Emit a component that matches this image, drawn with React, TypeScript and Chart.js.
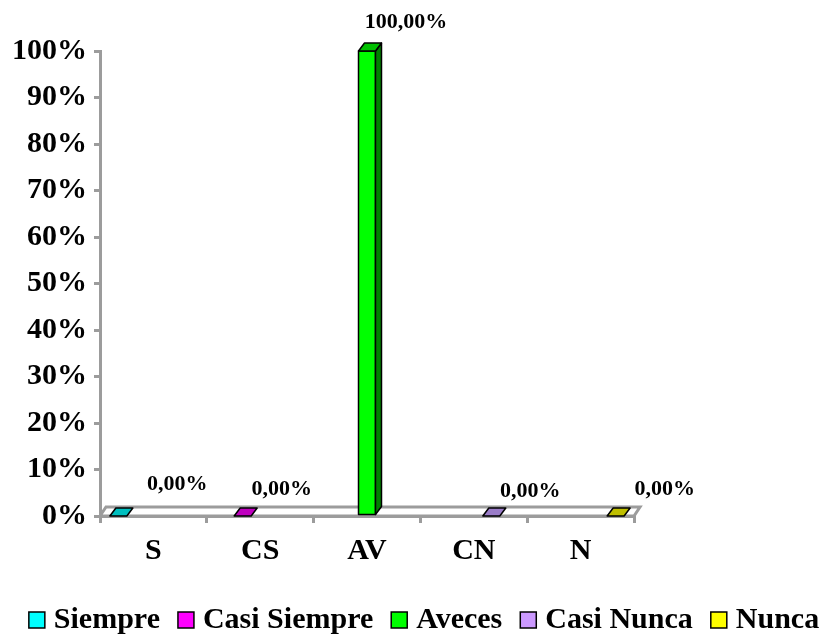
import React, { useEffect, useRef } from 'react';
import { Chart, registerables } from 'chart.js';

Chart.register(...registerables);

// ---- data ----
const categories = ['S', 'CS', 'AV', 'CN', 'N'];
const seriesNames = ['Siempre', 'Casi Siempre', 'Aveces', 'Casi Nunca', 'Nunca'];
const seriesValues = [0, 0, 100, 0, 0];
const yMin = 0;
const yMax = 100;
const yStep = 10;

// ---- styles ----
const frontColors = ['#00FFFF', '#FF00FF', '#00FF00', '#CC99FF', '#FFFF00'];
const topColors = ['#00BFBF', '#BF00BF', '#00C000', '#9A7CC8', '#BFBF00'];
const sideColors = ['#008080', '#800080', '#008000', '#6A52A0', '#808000'];
const LABEL_SHIFT_X = [20, 0, 0, 0, 10];
const LABEL_SHIFT_Y = [-5, 0, -2, 2, 0];
const GRAY = '#9c9c9c';
const FONT = '"Liberation Serif", "Times New Roman", serif';
const DX = 6;
const DY = -8;

const fmtLabel = (v: number) => v.toFixed(2).replace('.', ',') + '%';

const threeD = {
  id: 'threeD',
  beforeDatasetsDraw(chart: any) {
    const { ctx, chartArea } = chart;
    const { left, right, bottom } = chartArea;
    ctx.save();
    ctx.beginPath();
    ctx.moveTo(left, bottom);
    ctx.lineTo(right, bottom);
    ctx.lineTo(right + DX, bottom + DY - 1);
    ctx.lineTo(left + DX, bottom + DY - 1);
    ctx.closePath();
    ctx.fillStyle = '#ffffff';
    ctx.fill();
    ctx.strokeStyle = GRAY;
    ctx.lineWidth = 3;
    ctx.stroke();
    ctx.restore();
  },
  afterDatasetsDraw(chart: any) {
    const { ctx } = chart;
    ctx.save();
    chart.data.datasets.forEach((ds: any, i: number) => {
      const meta = chart.getDatasetMeta(i);
      meta.data.forEach((el: any, j: number) => {
        const v = ds.data[j];
        if (v === null || v === undefined) return;
        const p = el.getProps(['x', 'y', 'base', 'width'], true);
        const x0 = p.x - p.width / 2;
        const x1 = p.x + p.width / 2;
        const top = Math.min(p.y, p.base);
        const bot = Math.max(p.y, p.base);
        ctx.lineWidth = 1.5;
        ctx.strokeStyle = '#000';
        ctx.lineJoin = 'round';
        if (bot - top > 0.5) {
          ctx.beginPath();
          ctx.rect(x0, top, x1 - x0, bot - top);
          ctx.fillStyle = frontColors[i];
          ctx.fill();
          ctx.stroke();
          ctx.beginPath();
          ctx.moveTo(x1, top);
          ctx.lineTo(x1 + DX, top + DY);
          ctx.lineTo(x1 + DX, bot + DY);
          ctx.lineTo(x1, bot);
          ctx.closePath();
          ctx.fillStyle = sideColors[i];
          ctx.fill();
          ctx.stroke();
        }
        ctx.beginPath();
        ctx.moveTo(x0, top);
        ctx.lineTo(x1, top);
        ctx.lineTo(x1 + DX, top + DY);
        ctx.lineTo(x0 + DX, top + DY);
        ctx.closePath();
        ctx.fillStyle = topColors[i];
        ctx.fill();
        ctx.stroke();
      });
    });
    ctx.restore();
  },
  afterDraw(chart: any) {
    const { ctx } = chart;
    ctx.save();
    // data labels
    ctx.font = `bold 22px ${FONT}`;
    ctx.fillStyle = '#000';
    ctx.textAlign = 'center';
    ctx.textBaseline = 'middle';
    chart.data.datasets.forEach((ds: any, i: number) => {
      const meta = chart.getDatasetMeta(i);
      meta.data.forEach((el: any, j: number) => {
        const v = ds.data[j];
        if (v === null || v === undefined) return;
        const p = el.getProps(['x', 'y'], true);
        ctx.fillText(fmtLabel(v), p.x + 39 + LABEL_SHIFT_X[i], p.y - 27 + LABEL_SHIFT_Y[i]);
      });
    });
    // legend
    ctx.font = `bold 30px ${FONT}`;
    ctx.textAlign = 'left';
    ctx.textBaseline = 'alphabetic';
    const box = 16;
    const gapIn = 9;
    const gapOut = 18;
    const widths = seriesNames.map((n) => ctx.measureText(n).width);
    let total = 0;
    widths.forEach((w, i) => {
      total += box + gapIn + w + (i < widths.length - 1 ? gapOut : 0);
    });
    let x = 424 - total / 2;
    const baseY = 628;
    seriesNames.forEach((n, i) => {
      ctx.fillStyle = frontColors[i];
      ctx.fillRect(x, baseY - 16, box, box);
      ctx.strokeStyle = '#000';
      ctx.lineWidth = 1.5;
      ctx.strokeRect(x, baseY - 16, box, box);
      x += box + gapIn;
      ctx.fillStyle = '#000';
      ctx.fillText(n, x, baseY);
      x += widths[i] + gapOut;
    });
    ctx.restore();
  },
};

export default function App() {
  const ref = useRef<HTMLCanvasElement | null>(null);
  useEffect(() => {
    document.body.style.margin = '0';
    const canvas = ref.current;
    if (!canvas) return;
    const datasets = seriesNames.map((name, i) => ({
      label: name,
      data: categories.map((_, j) => (j === i ? seriesValues[i] : null)),
      backgroundColor: 'rgba(0,0,0,0)',
      borderWidth: 0,
      categoryPercentage: 0.82,
      barPercentage: 0.97,
    }));
    const chart = new Chart(canvas, {
      type: 'bar',
      data: { labels: categories, datasets },
      options: {
        responsive: false,
        animation: false,
        layout: { padding: { top: 51, right: 193, bottom: 62, left: 0 } },
        plugins: { legend: { display: false }, tooltip: { enabled: false } },
        scales: {
          x: {
            afterFit: (s: any) => { s.height = 60; },
            grid: {
              offset: true,
              drawOnChartArea: false,
              tickLength: 7,
              tickWidth: 3,
              tickColor: GRAY,
              color: GRAY,
              lineWidth: 3,
            },
            border: { color: GRAY, width: 3 },
            ticks: {
              color: '#000',
              padding: 10,
              maxRotation: 0,
              font: { family: FONT, size: 30, weight: 'bold' },
            },
          },
          y: {
            min: yMin,
            max: yMax,
            afterFit: (s: any) => { s.width = 100; },
            grid: {
              drawOnChartArea: false,
              tickLength: 6,
              tickWidth: 3,
              tickColor: GRAY,
              color: GRAY,
              lineWidth: 3,
            },
            border: { color: GRAY, width: 3 },
            ticks: {
              stepSize: yStep,
              color: '#000',
              padding: 7,
              font: { family: FONT, size: 30, weight: 'bold' },
              callback: (v: any) => `${v}%`,
            },
          },
        },
      },
      plugins: [threeD],
    } as any);
    return () => chart.destroy();
  }, []);
  return (
    <div style={{ width: 827, height: 638 }}>
      <canvas ref={ref} width={827} height={638} style={{ display: 'block' }} />
    </div>
  );
}
